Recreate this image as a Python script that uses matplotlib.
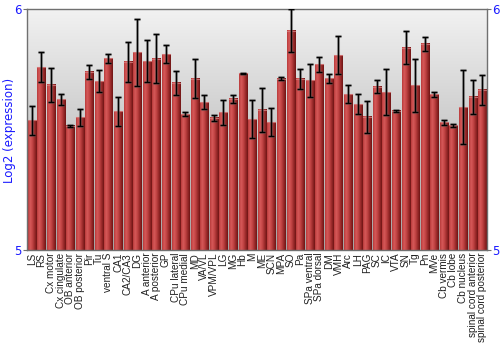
import numpy as np
import matplotlib
matplotlib.use("Agg")
import matplotlib.pyplot as plt
from matplotlib.colors import LinearSegmentedColormap

categories = ["LS", "RS", "Cx motor", "Cx cingulate", "OB anterior", "OB posterior", "Pir", "Tu",
              "ventral S", "CA1", "CA2/CA3", "DG", "A anterior", "A posterior", "GP", "CPu lateral",
              "CPu medial", "MD", "VA/VL", "VPM/VPL", "LG", "MG", "Hb", "M", "ME", "SCN", "MPA",
              "SO", "Pa", "SPa ventral", "SPa dorsal", "DM", "VMH", "Arc", "LH", "PAG", "SC", "IC",
              "VTA", "SN", "Tg", "Pn", "MVe", "Cb vermis", "Cb lobe", "Cb nucleus",
              "spinal cord anterior", "spinal cord posterior"]

values = [5.539, 5.758, 5.685, 5.625, 5.515, 5.551, 5.739, 5.701,
          5.795, 5.575, 5.781, 5.820, 5.784, 5.794, 5.813, 5.694,
          5.564, 5.711, 5.614, 5.549, 5.571, 5.628, 5.733, 5.543, 5.581, 5.531, 5.711,
          5.910, 5.711, 5.704, 5.770, 5.712, 5.809, 5.646, 5.605, 5.552, 5.678, 5.654,
          5.577, 5.840, 5.683, 5.855, 5.646, 5.530, 5.517, 5.592,
          5.635, 5.664]

errors = [0.060, 0.062, 0.070, 0.024, 0.005, 0.035, 0.030, 0.044,
          0.018, 0.061, 0.082, 0.139, 0.086, 0.103, 0.039, 0.049,
          0.009, 0.082, 0.028, 0.012, 0.053, 0.016, 0.002, 0.080, 0.093, 0.057, 0.006,
          0.088, 0.041, 0.068, 0.032, 0.017, 0.077, 0.037, 0.042, 0.066, 0.028, 0.095,
          0.003, 0.070, 0.109, 0.029, 0.010, 0.010, 0.007, 0.154,
          0.071, 0.061]

ymin, ymax = 5, 6
ytick_labels = ["5", "6"]

fig = plt.figure(figsize=(5, 3.5), dpi=100)
ax = fig.add_axes([0.054, 0.2857, 0.920, 0.6886])

n = len(categories)
x = np.arange(n)

# background gradient
bg = LinearSegmentedColormap.from_list("bg", ["#a4a4a4", "#f2f2f2"])
ax.imshow(np.linspace(0, 1, 256).reshape(-1, 1), cmap=bg, aspect="auto",
          extent=[0, 1, 0, 1], transform=ax.transAxes, origin="lower", zorder=0)

# bar gradient
barcmap = LinearSegmentedColormap.from_list("bar", ["#b83a3a", "#d65a5a", "#c24444", "#9a2a2a", "#6e1414"])
grad = np.linspace(0, 1, 64).reshape(1, -1)
w = 0.84
for xi, v in zip(x, values):
    ax.imshow(grad, cmap=barcmap, aspect="auto",
              extent=[xi - w / 2, xi + w / 2, ymin, v], zorder=2, interpolation="bilinear")
    ax.plot([xi - w / 2, xi + w / 2], [v, v], color="#d88080", lw=0.8, zorder=2.5, alpha=0.8)

ax.errorbar(x, values, yerr=errors, fmt="none", ecolor="#606060", elinewidth=2.2,
            capsize=2.5, capthick=2.2, alpha=0.45, zorder=3)
ax.errorbar(x, values, yerr=errors, fmt="none", ecolor="black", elinewidth=1.0,
            capsize=2.5, capthick=1.0, zorder=4)

ax.set_xlim(-0.5, n - 0.5)
ax.set_ylim(ymin, ymax)

for s in ax.spines.values():
    s.set_color("#707070")
    s.set_linewidth(1.0)

ax.set_yticks([ymin, ymax])
ax.set_yticklabels(ytick_labels)
ax.tick_params(axis="y", colors="#707070", labelcolor="#1a1aff", labelsize=8.5,
               length=3, left=True, right=True, labelleft=True, labelright=True, pad=1)
ax.set_xticks(x)
ax.set_xticklabels(categories, rotation=90, fontsize=7.2, family="Liberation Sans", color="#202020")
ax.tick_params(axis="x", length=0, pad=2)

fig.text(9.5 / 500, 1 - 130 / 350, "Log2 (expression)", color="#1a1aff", fontsize=8.5,
         rotation=90, ha="center", va="center")

fig.savefig("out.png", dpi=100)
